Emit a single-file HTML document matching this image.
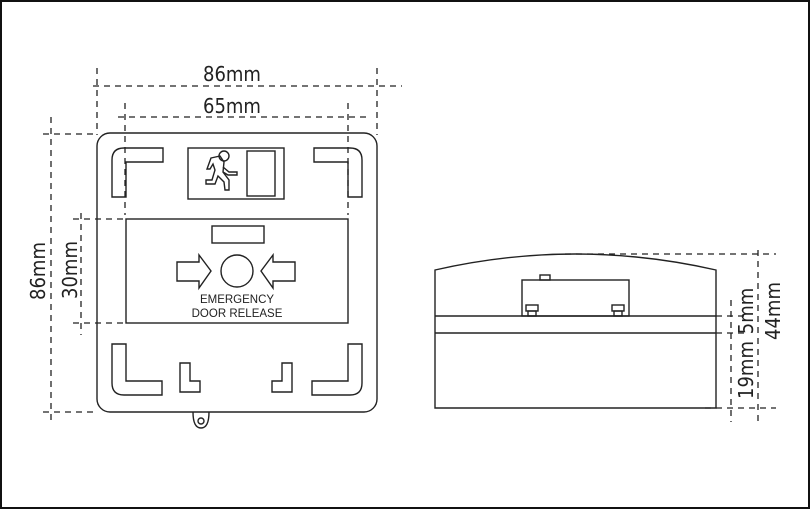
<!DOCTYPE html>
<html><head><style>
html,body{margin:0;padding:0;background:#fff}
svg{display:block}
text{font-family:"DejaVu Sans Condensed","DejaVu Sans","Liberation Sans",sans-serif;fill:#222}
.s{font-family:"Liberation Sans",sans-serif}
</style></head><body>
<svg width="811" height="510" viewBox="0 0 811 510" xmlns="http://www.w3.org/2000/svg">
<rect x="1" y="1" width="808" height="507" fill="#fff" stroke="#111" stroke-width="2"/>
<g fill="none" stroke="#222" stroke-width="1.3" stroke-dasharray="6,5">
<line x1="93" y1="86" x2="402" y2="86"/>
<line x1="97" y1="68" x2="97" y2="135"/>
<line x1="377" y1="68" x2="377" y2="135"/>
<line x1="118" y1="117" x2="367" y2="117"/>
<line x1="125" y1="103" x2="125" y2="215"/>
<line x1="348" y1="103" x2="348" y2="215"/>
<line x1="51" y1="117" x2="51" y2="425"/>
<line x1="43" y1="134" x2="97" y2="134"/>
<line x1="43" y1="412" x2="97" y2="412"/>
<line x1="81" y1="213" x2="81" y2="335"/>
<line x1="73" y1="219" x2="126" y2="219"/>
<line x1="73" y1="323" x2="126" y2="323"/>
<line x1="565" y1="254" x2="776" y2="254"/>
<line x1="716" y1="316" x2="746" y2="316"/>
<line x1="716" y1="333" x2="746" y2="333"/>
<line x1="705" y1="408" x2="776" y2="408"/>
<line x1="731" y1="300" x2="731" y2="422"/>
<line x1="758" y1="250" x2="758" y2="422"/>
</g>
<g fill="none" stroke="#222" stroke-width="1.4">
<rect x="97" y="133" width="280" height="279" rx="13"/>
<path d="M193 412 q0 16 8 16 q8 0 8 -16"/>
<circle cx="201" cy="421" r="3"/>
<path d="M163 148 H124 Q112 148 112 160 V197 H126 V162 H163 Z"/>
<path d="M314 148 H350 Q362 148 362 160 V197 H348 V162 H314 Z"/>
<rect x="188" y="148" width="96" height="51"/>
<rect x="247" y="151" width="28" height="45"/>
<circle cx="224" cy="156" r="5"/>
<path d="M211 158 l9 -2 l4 6 l-1 10 l6 8 l0 10 h-4 l-1 -8 l-6 -6 l-3 8 h-9 v-4 h6 l3 -10 l-2 -6 l-3 5 h-3 z"/>
<path d="M223 167 l6 5 h8 v3 h-9 l-5 -3"/>
<rect x="126" y="219" width="222" height="104"/>
<rect x="212" y="226" width="52" height="17"/>
<circle cx="237" cy="271" r="16"/>
<path d="M177 262 H199 V255 L211 271 L199 288 V281 H177 Z"/>
<path d="M295 262 H273 V255 L261 271 L273 288 V281 H295 Z"/>
<path d="M112 344 H126 V381 H162 V395 H124 Q112 395 112 383 Z"/>
<path d="M362 344 H348 V381 H312 V395 H350 Q362 395 362 383 Z"/>
<path d="M180 363 H190 V381 H200 V392 H180 Z"/>
<path d="M292 363 H282 V381 H272 V392 H292 Z"/>
<path d="M435 270 Q575 238 716 270 V408 H435 Z"/>
<line x1="435" y1="316" x2="716" y2="316"/>
<line x1="435" y1="333" x2="716" y2="333"/>
<rect x="522" y="280" width="107" height="36"/>
<rect x="540" y="275" width="10" height="5"/>
<rect x="526" y="305" width="12" height="6"/>
<rect x="528" y="311" width="8" height="5"/>
<rect x="612" y="305" width="12" height="6"/>
<rect x="614" y="311" width="8" height="5"/>
</g>
<text class="s" x="237" y="303" font-size="11.5" text-anchor="middle">EMERGENCY</text>
<text class="s" x="237" y="317" font-size="11.5" text-anchor="middle">DOOR RELEASE</text>
<text x="232" y="81" font-size="20" text-anchor="middle">86mm</text>
<text x="232" y="113" font-size="20" text-anchor="middle">65mm</text>
<text transform="translate(45,271) rotate(-90)" font-size="20" text-anchor="middle">86mm</text>
<text transform="translate(77,270) rotate(-90)" font-size="20" text-anchor="middle">30mm</text>
<text transform="translate(753,370) rotate(-90)" font-size="20" text-anchor="middle">19mm</text>
<text transform="translate(753,311) rotate(-90)" font-size="20" text-anchor="middle">5mm</text>
<text transform="translate(780,311) rotate(-90)" font-size="20" text-anchor="middle">44mm</text>
</svg>
</body></html>
